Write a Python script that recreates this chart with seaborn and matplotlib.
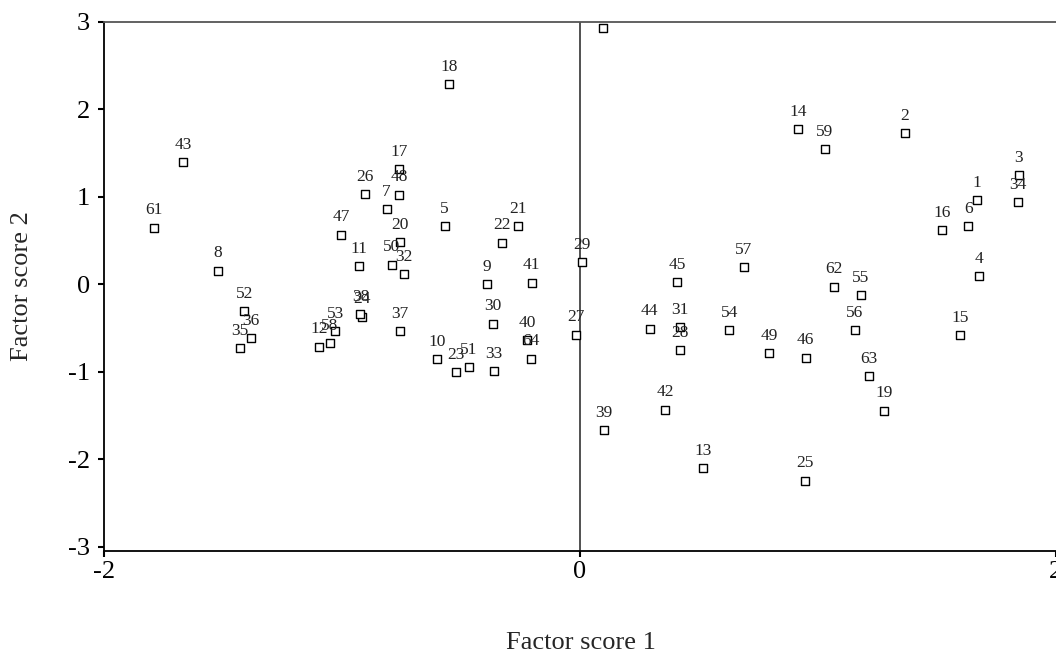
import matplotlib
matplotlib.use("Agg")
import matplotlib.pyplot as plt
import seaborn as sns
import pandas as pd

# Case numbers and their scores on the first two factors
case_ids = list(range(1, 65))
factor1 = [1.668, 1.365, 1.846, 1.679, -0.568, 1.633, -0.812, -1.521, -0.391, -0.599,
           -0.927, -1.096, 0.517, 0.917, 1.598, 1.522, -0.760, -0.548, 1.278, -0.755,
           -0.258, -0.329, -0.522, -0.916, 0.948, -0.902, -0.015, 0.421, 0.010, -0.364,
           0.420, -0.741, -0.360, 1.840, -1.430, -1.384, -0.756, -0.922, 0.101, -0.220,
           -0.203, 0.360, -1.667, 0.294, 0.410, 0.949, -1.003, -0.760, 0.796, -0.790,
           -0.467, -1.410, -1.028, 0.628, 1.182, 1.155, 0.690, -1.051, 1.029, 0.099,
           -1.789, 1.070, 1.217, -0.207]
factor2 = [0.964, 1.726, 1.246, 0.095, 0.663, 0.663, 0.861, 0.156, 0.004, -0.853,
           0.209, -0.712, -2.106, 1.771, -0.579, 0.621, 1.322, 2.289, -1.444, 0.484,
           0.667, 0.476, -1.002, -0.370, -2.244, 1.036, -0.575, -0.754, 0.251, -0.450,
           -0.488, 0.114, -0.990, 0.937, -0.728, -0.617, -0.533, -0.339, -1.665, -0.636,
           0.019, -1.432, 1.394, -0.507, 0.027, -0.838, 0.568, 1.025, -0.785, 0.225,
           -0.949, -0.305, -0.537, -0.522, -0.122, -0.522, 0.194, -0.674, 1.547, 2.926,
           0.648, -0.027, -1.048, -0.850]

x_ticks = [-2, 0, 2]
y_ticks = [-3, -2, -1, 0, 1, 2, 3]

df = pd.DataFrame({"case": case_ids, "f1": factor1, "f2": factor2})

sns.set_style("white")
plt.rcParams["font.family"] = ["Liberation Serif", "DejaVu Serif"]

fig = plt.figure(figsize=(10.56, 6.55), dpi=100)
W, H = 1056, 655
ax = fig.add_axes([104 / W, 1 - 551 / H, (1058 - 104) / W, (551 - 22) / H])

sns.scatterplot(data=df, x="f1", y="f2", ax=ax, marker="s", s=36,
                facecolor="white", edgecolor="black", linewidth=1.0, zorder=3)

for cid, xv, yv in zip(df["case"], df["f1"], df["f2"]):
    ax.annotate(str(cid), (xv, yv), xytext=(0, 9.5), textcoords="offset points",
                ha="center", va="baseline", fontsize=12.5, color="#222222",
                clip_on=True, annotation_clip=True)

ax.axvline(0, color="#333333", lw=1.2, zorder=1)

ax.set_xlim(-2, 2.01)
ax.set_ylim(-3.05, 3)
ax.set_xticks(x_ticks)
ax.set_yticks(y_ticks)
ax.set_xticklabels([str(t) for t in x_ticks])
ax.set_yticklabels([str(t) for t in y_ticks])

for side in ["left", "bottom", "top"]:
    ax.spines[side].set_visible(True)
    ax.spines[side].set_color("black")
    ax.spines[side].set_linewidth(1.3)
ax.spines["top"].set_color("#555555")
ax.spines["right"].set_visible(False)

ax.tick_params(axis="both", which="major", direction="out", length=4, width=1.5,
               labelsize=19, color="black", labelcolor="black",
               bottom=True, left=True, top=False, right=False)
ax.tick_params(axis="x", pad=3)
ax.tick_params(axis="y", pad=6)

ax.set_xlabel("Factor score 1", fontsize=19)
ax.set_ylabel("Factor score 2", fontsize=19)
ax.xaxis.set_label_coords(0.5, -0.174)
ax.xaxis.label.set_va("center")
ax.yaxis.set_label_coords(-0.086, 0.5)
ax.yaxis.label.set_va("center")

fig.savefig("out.png", dpi=100)
